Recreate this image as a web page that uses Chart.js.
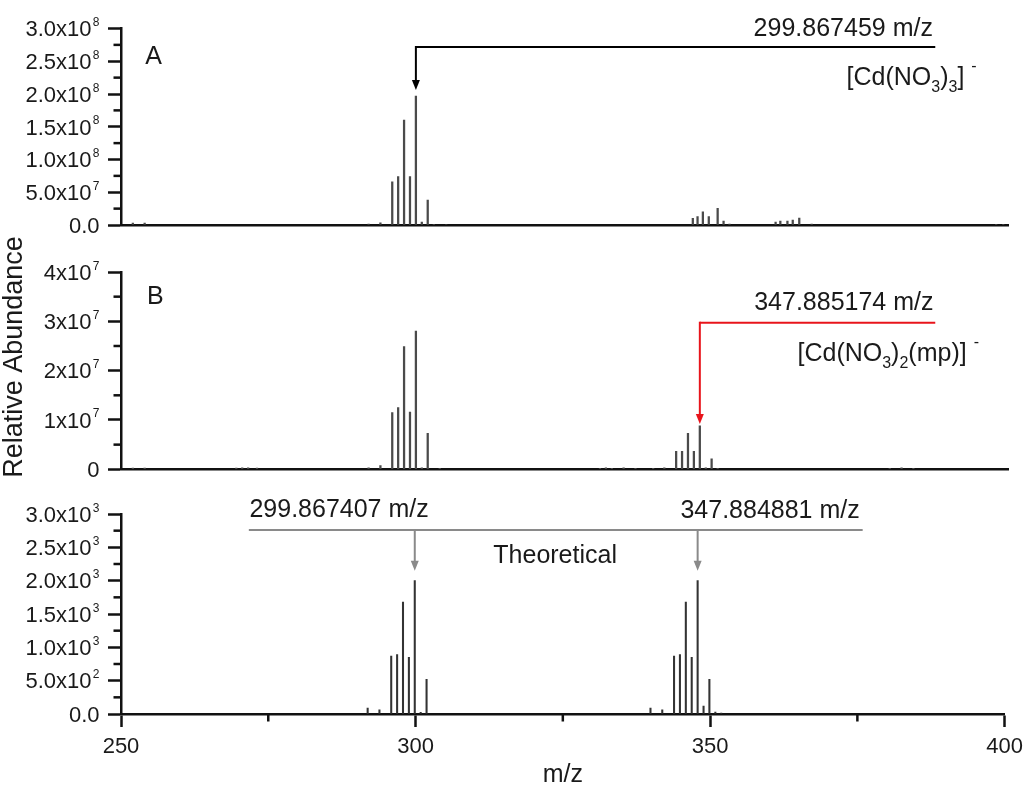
<!DOCTYPE html>
<html lang="en">
<head>
<meta charset="UTF-8">
<title>Espectros Cd(NO3)</title>
<script src="https://cdn.jsdelivr.net/npm/chart.js@4"></script>
<style>
    body { margin: 0; background: #fff; }
    .painel { position: absolute; left: 0; top: 0; }
</style>
</head>
<body>
<canvas id="chartA" class="painel" width="1030" height="788"></canvas>
<canvas id="chartB" class="painel" width="1030" height="788"></canvas>
<canvas id="chartC" class="painel" width="1030" height="788"></canvas>

<script>
    // painel A - experimental
    var mzA = [252.0, 254.0, 291.87, 293.87, 295.87, 296.87, 297.87, 298.87, 299.87, 300.87, 301.87, 302.9, 305.0,
        346.7, 347.5, 348.4, 349.4, 350.9, 351.9, 352.9,
        360.7, 361.5, 362.7, 363.6, 364.7, 366.8, 398.0, 399.2];
    var intA = [3.0e6, 3.0e6, 1.5e6, 3.5e6, 6.6e7, 7.4e7, 1.60e8, 7.4e7, 1.97e8, 4.6e6, 3.8e7, 1.2e6, 0.8e6,
        1.0e7, 1.3e7, 2.0e7, 1.3e7, 2.55e7, 6.0e6, 1.5e6,
        4.6e6, 6.0e6, 6.0e6, 7.7e6, 1.07e7, 1.5e6, 1.0e6, 1.0e6];

    // painel B - experimental
    var mzB = [252.0, 254.0, 269.5, 270.5, 271.5, 273.0, 291.87, 293.87, 295.87, 296.87, 297.87, 298.87, 299.87, 300.87, 301.87, 303.9,
        331.0, 332.0, 333.0, 335.0, 337.0, 340.0, 341.88, 343.88, 344.88, 345.88, 346.88, 347.885, 348.89, 349.88, 350.9,
        380.0, 382.0, 384.0];
    var intB = [2.5e5, 2.5e5, 2.5e5, 3e5, 3e5, 2.5e5, 3e5, 7.3e5, 1.15e7, 1.25e7, 2.49e7, 1.16e7, 2.80e7, 3e5, 7.3e6, 2e5,
        2e5, 3e5, 2e5, 3e5, 2e5, 2e5, 3e5, 3.65e6, 3.65e6, 7.3e6, 3.65e6, 8.8e6, 3e5, 2.1e6, 2e5,
        2e5, 3e5, 2e5];

    // painel C - teorico
    var mzC = [291.87, 293.87, 295.87, 296.87, 297.87, 298.87, 299.867, 300.87, 301.87,
        339.88, 341.88, 343.88, 344.88, 345.88, 346.88, 347.885, 348.89, 349.88, 350.89, 351.89];
    var intC = [87, 62, 870, 891, 1680, 851, 2000, 25, 521,
        87, 62, 870, 891, 1680, 851, 2000, 120, 521, 30, 15];

    // rotulos dos eixos y: [mantissa, expoente]
    var rotulosYA = [['0.0', ''], ['5.0x10', '7'], ['1.0x10', '8'], ['1.5x10', '8'], ['2.0x10', '8'], ['2.5x10', '8'], ['3.0x10', '8']];
    var rotulosYB = [['0', ''], ['1x10', '7'], ['2x10', '7'], ['3x10', '7'], ['4x10', '7']];
    var rotulosYC = [['0.0', ''], ['5.0x10', '2'], ['1.0x10', '3'], ['1.5x10', '3'], ['2.0x10', '3'], ['2.5x10', '3'], ['3.0x10', '3']];
    var ticksX = [250, 300, 350, 400];

    var fonte = '"Liberation Sans", Arial, Helvetica, sans-serif';
    var corTexto = '#1a1a1a';
    var corEixo = '#111';

    function textoRico(ctx, partes, x, y, tam) {
        var cx = x;
        ctx.textAlign = 'left';
        ctx.textBaseline = 'alphabetic';
        partes.forEach(function (p) {
            var t = tam, dy = 0;
            if (p.sub) { t = 16; dy = 6.7; }
            if (p.sup) { t = 16; dy = -14; }
            ctx.font = t + 'px ' + fonte;
            cx += p.gap || 0;
            ctx.fillText(p.t, cx, y + dy);
            cx += ctx.measureText(p.t).width;
        });
    }

    function seta(ctx, x, y1, y2, cor) {
        ctx.strokeStyle = cor;
        ctx.fillStyle = cor;
        ctx.lineWidth = 2;
        ctx.beginPath();
        ctx.moveTo(x, y1);
        ctx.lineTo(x, y2 - 8);
        ctx.stroke();
        ctx.beginPath();
        ctx.moveTo(x - 4, y2 - 10);
        ctx.lineTo(x + 4, y2 - 10);
        ctx.lineTo(x, y2);
        ctx.closePath();
        ctx.fill();
    }

    var pluginEixos = {
        id: 'eixos',
        afterDraw: function (chart, args, opts) {
            var ctx = chart.ctx;
            var sx = chart.scales.x, sy = chart.scales.y;
            var area = chart.chartArea;
            ctx.save();

            // marcas menores no eixo y
            ctx.strokeStyle = corEixo;
            ctx.lineWidth = 2.5;
            var t = sy.ticks;
            for (var i = 0; i < t.length - 1; i++) {
                var ym = sy.getPixelForValue((t[i].value + t[i + 1].value) / 2);
                ctx.beginPath();
                ctx.moveTo(area.left - 7.5, ym);
                ctx.lineTo(area.left, ym);
                ctx.stroke();
            }
            if (opts.menorX) {
                var tx = sx.ticks;
                for (var j = 0; j < tx.length - 1; j++) {
                    var xm = sx.getPixelForValue((tx[j].value + tx[j + 1].value) / 2);
                    ctx.beginPath();
                    ctx.moveTo(xm, area.bottom);
                    ctx.lineTo(xm, area.bottom + 7.5);
                    ctx.stroke();
                }
            }

            // rotulos do eixo y com expoente
            ctx.fillStyle = corTexto;
            ctx.textBaseline = 'alphabetic';
            var xr = area.left - 21.5;
            t.forEach(function (tk, k) {
                var r = opts.rotulos[k];
                if (!r) return;
                var yp = sy.getPixelForValue(tk.value);
                if (r[1]) {
                    ctx.font = '12px ' + fonte;
                    ctx.textAlign = 'right';
                    ctx.fillText(r[1], xr, yp - 2.5);
                    var ws = ctx.measureText(r[1]).width;
                    ctx.font = '22px ' + fonte;
                    ctx.fillText(r[0], xr - ws - 1.3, yp + 7.8);
                } else {
                    ctx.font = '22px ' + fonte;
                    ctx.textAlign = 'right';
                    ctx.fillText(r[0], xr, yp + 7.8);
                }
            });

            // anotacoes
            (opts.notas || []).forEach(function (n) {
                if (n.tipo === 'texto') {
                    ctx.fillStyle = corTexto;
                    ctx.font = n.tam + 'px ' + fonte;
                    ctx.textAlign = n.alinhar;
                    ctx.textBaseline = 'alphabetic';
                    ctx.fillText(n.texto, sx.getPixelForValue(n.x), sy.getPixelForValue(n.y));
                } else if (n.tipo === 'rico') {
                    ctx.fillStyle = corTexto;
                    textoRico(ctx, n.partes, sx.getPixelForValue(n.x), sy.getPixelForValue(n.y), 25);
                } else if (n.tipo === 'linha') {
                    var yl = sy.getPixelForValue(n.nivel);
                    ctx.strokeStyle = n.cor;
                    ctx.lineWidth = 2;
                    ctx.beginPath();
                    ctx.moveTo(sx.getPixelForValue(n.de), yl);
                    ctx.lineTo(sx.getPixelForValue(n.ate), yl);
                    ctx.stroke();
                    n.setas.forEach(function (s) {
                        seta(ctx, sx.getPixelForValue(s), yl - 1, sy.getPixelForValue(n.ponta), n.cor);
                    });
                } else if (n.tipo === 'vertical') {
                    ctx.save();
                    ctx.fillStyle = corTexto;
                    ctx.font = n.tam + 'px ' + fonte;
                    ctx.textAlign = 'center';
                    ctx.textBaseline = 'alphabetic';
                    ctx.translate(n.px, sy.getPixelForValue(n.y));
                    ctx.rotate(-Math.PI / 2);
                    ctx.fillText(n.texto, 0, 0);
                    ctx.restore();
                } else if (n.tipo === 'tituloX') {
                    ctx.fillStyle = corTexto;
                    ctx.font = n.tam + 'px ' + fonte;
                    ctx.textAlign = 'center';
                    ctx.textBaseline = 'alphabetic';
                    ctx.fillText(n.texto, (area.left + area.right) / 2, area.bottom + n.dy);
                }
            });
            ctx.restore();
        }
    };

    function criarPainel(id, mz, intensidade, cfg) {
        var pontos = mz.map(function (m, i) { return { x: m, y: intensidade[i] }; });
        return new Chart(document.getElementById(id), {
            type: 'bar',
            data: {
                datasets: [{
                    data: pontos,
                    backgroundColor: cfg.corPico,
                    borderWidth: 0,
                    barThickness: cfg.espessura
                }]
            },
            options: {
                responsive: false,
                animation: false,
                layout: { padding: { left: 0, right: 22, top: cfg.topo, bottom: cfg.baixo } },
                plugins: {
                    legend: { display: false },
                    tooltip: { enabled: false },
                    eixos: { rotulos: cfg.rotulos, notas: cfg.notas, menorX: cfg.mostrarX }
                },
                scales: {
                    x: {
                        type: 'linear',
                        min: 250,
                        max: 400,
                        offset: false,
                        afterBuildTicks: function (s) {
                            s.ticks = ticksX.map(function (v) { return { value: v }; });
                        },
                        border: { display: true, color: corEixo, width: 2.5 },
                        grid: {
                            display: cfg.mostrarX,
                            offset: false,
                            drawOnChartArea: false,
                            tickLength: 13,
                            tickWidth: 2.5,
                            tickColor: corEixo
                        },
                        ticks: {
                            display: cfg.mostrarX,
                            color: corTexto,
                            padding: 7,
                            maxRotation: 0,
                            font: { family: fonte, size: 22 }
                        },
                        afterFit: function (s) { s.height = cfg.alturaX; }
                    },
                    y: {
                        min: 0,
                        max: cfg.yMax,
                        ticks: { display: false, stepSize: cfg.yPasso },
                        border: { display: true, color: corEixo, width: 2.5 },
                        grid: {
                            drawOnChartArea: false,
                            tickLength: 13,
                            tickWidth: 2.5,
                            tickColor: corEixo
                        },
                        afterFit: function (s) { s.width = 121; }
                    }
                }
            },
            plugins: [pluginEixos]
        });
    }

    criarPainel('chartA', mzA, intA, {
        corPico: '#4a4a4a', espessura: 1.6, topo: 28.5, baixo: 562, alturaX: 1,
        yMax: 3e8, yPasso: 5e7, rotulos: rotulosYA, mostrarX: false,
        notas: [
            { tipo: 'texto', texto: 'A', x: 254.1, y: 2.458e8, alinhar: 'left', tam: 25 },
            { tipo: 'texto', texto: '299.867459 m/z', x: 387.3, y: 2.885e8, alinhar: 'right', tam: 25 },
            { tipo: 'rico', x: 372.7, y: 2.137e8, partes: [{ t: '[Cd(NO' }, { t: '3', sub: true }, { t: ')' }, { t: '3', sub: true }, { t: ']' }, { t: '-', sup: true, gap: 7 }] },
            { tipo: 'linha', cor: '#000', de: 387.7, ate: 299.867459, nivel: 2.718e8, ponta: 2.061e8, setas: [299.867459] }
        ]
    });

    criarPainel('chartB', mzB, intB, {
        corPico: '#4a4a4a', espessura: 1.6, topo: 272, baixo: 317.7, alturaX: 1,
        yMax: 4e7, yPasso: 1e7, rotulos: rotulosYB, mostrarX: false,
        notas: [
            { tipo: 'texto', texto: 'B', x: 254.4, y: 3.351e7, alinhar: 'left', tam: 25 },
            { tipo: 'texto', texto: '347.885174 m/z', x: 387.4, y: 3.230e7, alinhar: 'right', tam: 25 },
            { tipo: 'rico', x: 364.4, y: 2.196e7, partes: [{ t: '[Cd(NO' }, { t: '3', sub: true }, { t: ')' }, { t: '2', sub: true }, { t: '(mp)]' }, { t: '-', sup: true, gap: 7 }] },
            { tipo: 'linha', cor: '#e8141b', de: 387.7, ate: 347.885174, nivel: 2.972e7, ponta: 9.18e6, setas: [347.885174] },
            { tipo: 'vertical', texto: 'Relative Abundance', px: 21.7, y: 2.277e7, tam: 27 }
        ]
    });

    criarPainel('chartC', mzC, intC, {
        corPico: '#333333', espessura: 1.4, topo: 514, baixo: 0, alturaX: 74,
        yMax: 3000, yPasso: 500, rotulos: rotulosYC, mostrarX: true,
        notas: [
            { tipo: 'texto', texto: '299.867407 m/z', x: 271.8, y: 2955, alinhar: 'left', tam: 25 },
            { tipo: 'texto', texto: '347.884881 m/z', x: 375.4, y: 2940, alinhar: 'right', tam: 25 },
            { tipo: 'texto', texto: 'Theoretical', x: 313.2, y: 2265, alinhar: 'left', tam: 25 },
            { tipo: 'linha', cor: '#8a8a8a', de: 271.7, ate: 375.9, nivel: 2760, ponta: 2150, setas: [299.867407, 347.884881] },
            { tipo: 'tituloX', texto: 'm/z', tam: 25, dy: 68 }
        ]
    });
</script>
</body>
</html>
